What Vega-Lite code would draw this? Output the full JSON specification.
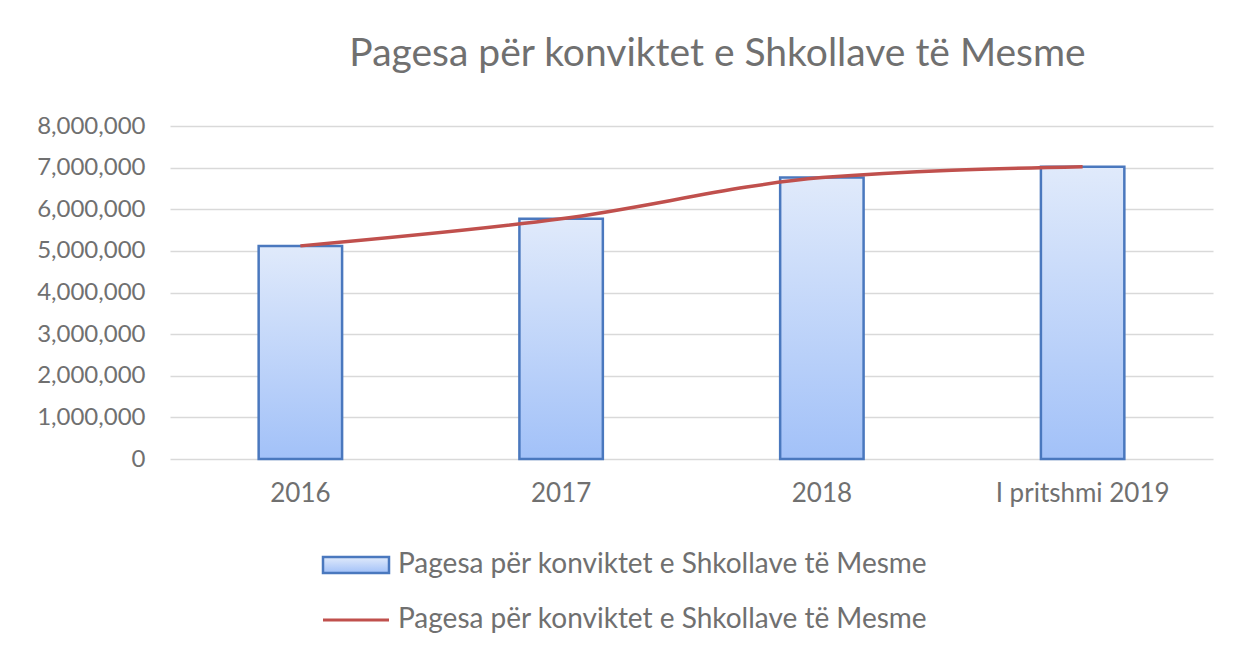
{
  "$schema": "https://vega.github.io/schema/vega-lite/v6.json",
  "width": 1043,
  "height": 333,
  "autosize": {"type": "none"},
  "padding": {"left": 170, "top": 126, "right": 31, "bottom": 201},
  "background": "white",
  "config": {"view": {"stroke": null}, "font": "Lato"},
  "title": {
    "text": "Pagesa për konviktet e Shkollave të Mesme",
    "font": "Lato",
    "fontSize": 39,
    "fontWeight": "normal",
    "color": "#707070",
    "anchor": "middle",
    "frame": "group",
    "dx": 26,
    "offset": 40
  },
  "data": {
    "values": [
      {"year": "2016", "value": 5120000},
      {"year": "2017", "value": 5770000},
      {"year": "2018", "value": 6760000},
      {"year": "I pritshmi 2019", "value": 7020000}
    ]
  },
  "encoding": {
    "x": {
      "field": "year",
      "type": "nominal",
      "sort": null,
      "title": null,
      "scale": {"paddingInner": 0.68, "paddingOuter": 0.34},
      "axis": {
        "labelAngle": 0,
        "labelFontSize": 26,
        "labelColor": "#707070",
        "labelFont": "Lato",
        "labelPadding": 21,
        "domain": false,
        "ticks": false,
        "grid": false
      }
    },
    "y": {
      "field": "value",
      "type": "quantitative",
      "title": null,
      "scale": {"domain": [0, 8000000], "nice": false},
      "axis": {
        "values": [0, 1000000, 2000000, 3000000, 4000000, 5000000, 6000000, 7000000, 8000000],
        "format": ",.0f",
        "labelFontSize": 24,
        "labelColor": "#707070",
        "labelFont": "Lato",
        "labelPadding": 25,
        "domain": false,
        "ticks": false,
        "gridColor": "#d9d9d9",
        "gridWidth": 1.5
      }
    }
  },
  "resolve": {"scale": {"stroke": "independent"}, "legend": {"stroke": "independent"}},
  "layer": [
    {
      "mark": {
        "type": "bar",
        "fill": {
          "gradient": "linear",
          "x1": 0, "y1": 0, "x2": 0, "y2": 1,
          "stops": [
            {"offset": 0, "color": "#e0eafb"},
            {"offset": 1, "color": "#a2c1f8"}
          ]
        },
        "strokeWidth": 2.5
      },
      "encoding": {
        "stroke": {
          "datum": "Pagesa për konviktet e Shkollave të Mesme",
          "type": "nominal",
          "scale": {"range": ["#4a78be"]},
          "legend": {
            "orient": "none",
            "legendX": 172,
            "legendY": 425,
            "title": null,
            "padding": 0,
            "labelFontSize": 28,
            "labelFont": "Lato",
            "labelColor": "#707070",
            "labelOffset": 28,
            "labelLimit": 800,
            "symbolSize": 256,
            "symbolType": "M-4.125,-1H4.125V1H-4.125Z",
            "symbolFillColor": "#c8dbfa",
            "symbolStrokeWidth": 2.5,
            "symbolOpacity": 1
          }
        }
      }
    },
    {
      "mark": {"type": "line", "interpolate": "monotone", "strokeWidth": 3.5},
      "encoding": {
        "stroke": {
          "datum": "Pagesa për konviktet e Shkollave të Mesme",
          "type": "nominal",
          "scale": {"range": ["#c0504d"]},
          "legend": {
            "orient": "none",
            "legendX": 172,
            "legendY": 480,
            "title": null,
            "padding": 0,
            "labelFontSize": 28,
            "labelFont": "Lato",
            "labelColor": "#707070",
            "labelOffset": 28,
            "labelLimit": 800,
            "symbolSize": 256,
            "symbolType": "M-4.125,0H4.125",
            "symbolStrokeWidth": 3,
            "symbolOpacity": 1
          }
        }
      }
    }
  ]
}
